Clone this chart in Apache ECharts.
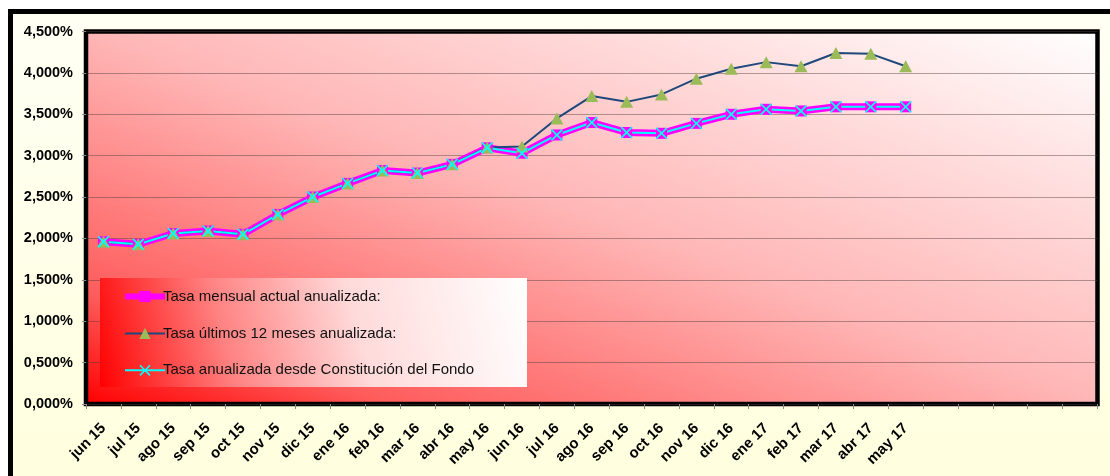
<!DOCTYPE html>
<html>
<head>
<meta charset="utf-8">
<script src="https://cdn.jsdelivr.net/npm/echarts@6/dist/echarts.min.js"></script>
<style>
    body { margin: 0; background: #fff; overflow: hidden; }
    #marco { position: absolute; left: 8px; top: 9px; width: 1200px; height: 600px;
             border: 5px solid #000; background: linear-gradient(to bottom, #FFFFF4, #FFFFD8); }
    #grafico { position: absolute; left: 0; top: 0; width: 1110px; height: 476px; }
</style>
</head>
<body>
<div id="marco"></div>
<div id="grafico"></div>
<script>
// meses (los 5 vacios del final son huecos del eje en el original)
var meses = ['jun 15','jul 15','ago 15','sep 15','oct 15','nov 15','dic 15','ene 16','feb 16','mar 16','abr 16','may 16',
    'jun 16','jul 16','ago 16','sep 16','oct 16','nov 16','dic 16','ene 17','feb 17','mar 17','abr 17','may 17',
    '','','','',''];

var tasaMensual = [1.96,1.93,2.06,2.09,2.05,2.29,2.50,2.665,2.82,2.79,2.895,3.095,
    3.03,3.25,3.40,3.28,3.27,3.39,3.50,3.56,3.54,3.59,3.59,3.59];
var tasa12Meses = [1.96,1.93,2.06,2.09,2.05,2.29,2.50,2.665,2.82,2.79,2.895,3.10,
    3.11,3.45,3.72,3.65,3.74,3.93,4.05,4.13,4.08,4.24,4.23,4.08];
var tasaConstitucion = [1.96,1.93,2.06,2.09,2.05,2.29,2.50,2.665,2.82,2.79,2.895,3.095,
    3.03,3.25,3.40,3.28,3.27,3.39,3.50,3.56,3.54,3.59,3.59,3.59];

var nombres = ['Tasa mensual actual anualizada:', 'Tasa últimos 12 meses anualizada:',
    'Tasa anualizada desde Constitución del Fondo'];

var fuente = 'Liberation Sans, Arial, sans-serif';
var cuadro = 'path://M0,0L10,0L10,10L0,10Z';
var cruz = 'path://M0,1L1,0L5,4L9,0L10,1L6,5L10,9L9,10L5,6L1,10L0,9L4,5Z';

var myChart = echarts.init(document.getElementById('grafico'));

var option = {
    backgroundColor: 'transparent',
    animation: false,
    textStyle: { fontFamily: fuente },
    grid: {
        left: 86, top: 31.5, right: 12.5, bottom: 72,
        show: true,
        borderColor: '#000',
        borderWidth: 4.5,
        backgroundColor: {
            type: 'linear', global: true,
            x: 86, y: 404, x2: 327, y2: -252,
            colorStops: [
                { offset: 0, color: '#FF0000' },
                { offset: 0.15, color: '#FF5C5C' },
                { offset: 0.5, color: '#FFB6B6' },
                { offset: 1, color: '#FFFFFF' }
            ]
        }
    },
    graphic: [{
        type: 'rect', z: 3,
        shape: { x: 100, y: 278, width: 427, height: 109 },
        style: {
            fill: {
                type: 'linear', x: 0, y: 1, x2: 1, y2: 0,
                colorStops: [
                    { offset: 0, color: '#FF0000' },
                    { offset: 0.3, color: '#FF8282' },
                    { offset: 0.6, color: '#FFDADA' },
                    { offset: 1, color: '#FFFFFF' }
                ]
            }
        }
    }],
    legend: {
        orient: 'vertical',
        left: 122, top: 289,
        padding: 0,
        itemWidth: 40, itemHeight: 14,
        itemGap: 21.9,
        z: 5,
        textStyle: { fontSize: 15, color: '#111', fontFamily: fuente, padding: [0, 0, 0, -7] },
        data: [
            { name: nombres[0], lineStyle: { width: 6 }, itemStyle: { color: '#FF00FF', borderWidth: 0 } },
            { name: nombres[1], lineStyle: { width: 2 } },
            { name: nombres[2], lineStyle: { width: 2 } }
        ]
    },
    xAxis: {
        type: 'category',
        data: meses,
        boundaryGap: true,
        axisLine: { show: false },
        axisTick: { show: true, length: 5, lineStyle: { color: '#8a8a8a' } },
        axisLabel: { interval: 0, rotate: 45, margin: 22, fontSize: 15, fontWeight: 'bold', color: '#000' },
        splitLine: { show: false }
    },
    yAxis: {
        type: 'value',
        min: 0, max: 4.5, interval: 0.5,
        axisLine: { show: false },
        axisTick: { show: true, length: 4, lineStyle: { color: '#8a8a8a' } },
        axisLabel: {
            margin: 13, fontSize: 14.5, fontWeight: 'bold', color: '#000',
            formatter: function (v) { return v.toFixed(3).replace('.', ',') + '%'; }
        },
        splitLine: { show: true, lineStyle: { color: 'rgba(80,60,60,0.45)', width: 1 } }
    },
    series: [{
        name: nombres[0],
        type: 'line',
        data: tasaMensual,
        symbol: cuadro,
        symbolSize: 11,
        lineStyle: { color: '#FF00FF', width: 7 },
        itemStyle: { color: '#FF00FF', borderWidth: 0 }
    }, {
        name: nombres[1],
        type: 'line',
        data: tasa12Meses,
        symbol: 'triangle',
        symbolSize: [13, 12],
        lineStyle: { color: '#1F497D', width: 2 },
        itemStyle: { color: '#9BBB59' }
    }, {
        name: nombres[2],
        type: 'line',
        data: tasaConstitucion,
        symbol: cruz,
        symbolSize: 12,
        lineStyle: { color: '#00FFFF', width: 2 },
        itemStyle: { color: '#00FFFF' }
    }]
};

myChart.setOption(option);
</script>
</body>
</html>
